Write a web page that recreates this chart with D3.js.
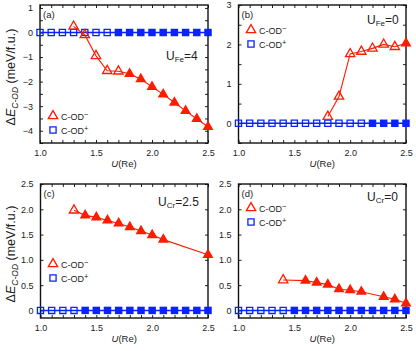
<!DOCTYPE html>
<html>
<head>
<script src="https://d3js.org/d3.v7.min.js"></script>
<style>
  body { margin: 0; background: #fff; }
  text { font-family: "Liberation Sans", Arial, Helvetica, sans-serif; fill: #222; }
  .tick text { font-size: 9px; }
  .tick line { stroke: #222; }
  .domain { display: none; }
</style>
</head>
<body>
<svg width="416" height="351"></svg>
<script>
// U(Re) grid shared by the C-OD+ series
var uGrid = [1.0, 1.1, 1.2, 1.3, 1.4, 1.5, 1.6, 1.7, 1.8, 1.9, 2.0, 2.1, 2.2, 2.3, 2.4, 2.5];

// (a) U_Fe = 4
var aMinusU = [1.3, 1.4, 1.5, 1.6, 1.7, 1.8, 1.9, 2.0, 2.1, 2.2, 2.3, 2.4, 2.5];
var aMinusE = [0.25, -0.1, -0.95, -1.56, -1.58, -1.68, -1.9, -2.21, -2.52, -2.85, -3.19, -3.52, -3.84];
var aMinusFilled = [0, 0, 0, 0, 0, 1, 1, 1, 1, 1, 1, 1, 1];
var aPlusE = [0, 0, 0, 0, 0, 0, 0, 0, 0, 0, 0, 0, 0, 0, 0, 0];
var aPlusFilled = [0, 0, 0, 0, 0, 0, 0, 1, 1, 1, 1, 1, 1, 1, 1, 1];

// (b) U_Fe = 0
var bMinusU = [1.8, 1.9, 2.0, 2.1, 2.2, 2.3, 2.4, 2.5];
var bMinusE = [0.17, 0.68, 1.76, 1.82, 1.9, 2.0, 1.94, 2.03];
var bMinusFilled = [0, 0, 0, 0, 0, 0, 0, 1];
var bPlusE = [0, 0, 0, 0, 0, 0, 0, 0, 0, 0, 0, 0, 0, 0, 0, 0];
var bPlusFilled = [0, 0, 0, 0, 0, 0, 0, 0, 0, 0, 0, 0, 1, 1, 1, 1];

// (c) U_Cr = 2.5
var cMinusU = [1.3, 1.4, 1.5, 1.6, 1.7, 1.8, 1.9, 2.0, 2.1, 2.5];
var cMinusE = [1.98, 1.88, 1.84, 1.78, 1.72, 1.65, 1.57, 1.49, 1.4, 1.1];
var cMinusFilled = [0, 1, 1, 1, 1, 1, 1, 1, 1, 1];
var cPlusE = [0, 0, 0, 0, 0, 0, 0, 0, 0, 0, 0, 0, 0, 0, 0, 0];
var cPlusFilled = [0, 0, 0, 0, 1, 1, 1, 1, 1, 1, 1, 1, 1, 1, 1, 1];

// (d) U_Cr = 0
var dMinusU = [1.4, 1.6, 1.7, 1.8, 1.9, 2.0, 2.1, 2.3, 2.4, 2.5];
var dMinusE = [0.6, 0.59, 0.55, 0.51, 0.42, 0.4, 0.37, 0.27, 0.22, 0.14];
var dMinusFilled = [0, 1, 1, 1, 1, 1, 1, 1, 1, 1];
var dPlusE = [0, 0, 0, 0, 0, 0, 0, 0, 0, 0, 0, 0, 0, 0, 0, 0];
var dPlusFilled = [0, 0, 0, 0, 0, 1, 1, 1, 1, 1, 1, 1, 1, 1, 1, 1];

var xTicks = [1.0, 1.5, 2.0, 2.5];
var aYTicks = [1, 0, -1, -2, -3, -4];
var bYTicks = [3, 2, 1, 0];
var cdYTicks = [2.5, 2.0, 1.5, 1.0, 0.5, 0];

var red = "#ff1a00", blue = "#0a22ff";

var panels = [
  { tag: "(a)", u: "Fe", uval: "=4", minusU: aMinusU, minusE: aMinusE, minusF: aMinusFilled,
    plusE: aPlusE, plusF: aPlusFilled, yDomain: [-4.5, 1.12], yTicks: aYTicks, yMinor: 0.5,
    yFmt: function(d) { return d < 0 ? "\u2212" + (-d) : "" + d; },
    x0: 40, x1: 208, y0: 5, y1: 143, ylabel: true,
    legend: [53, 116], uPos: [166, 60] },
  { tag: "(b)", u: "Fe", uval: "=0", minusU: bMinusU, minusE: bMinusE, minusF: bMinusFilled,
    plusE: bPlusE, plusF: bPlusFilled, yDomain: [-0.5, 3], yTicks: bYTicks, yMinor: 0.5,
    yFmt: function(d) { return "" + d; },
    x0: 238.5, x1: 406, y0: 5, y1: 143, ylabel: false,
    legend: [251, 30], uPos: [367, 24] },
  { tag: "(c)", u: "Cr", uval: "=2.5", minusU: cMinusU, minusE: cMinusE, minusF: cMinusFilled,
    plusE: cPlusE, plusF: cPlusFilled, yDomain: [-0.15, 2.5], yTicks: cdYTicks, yMinor: 0.5,
    yFmt: function(d) { return d === 0 ? "0" : d3.format(".1f")(d); },
    x0: 40.5, x1: 208, y0: 184, y1: 318, ylabel: true,
    legend: [53, 264], uPos: [158, 206] },
  { tag: "(d)", u: "Cr", uval: "=0", minusU: dMinusU, minusE: dMinusE, minusF: dMinusFilled,
    plusE: dPlusE, plusF: dPlusFilled, yDomain: [-0.15, 2.5], yTicks: cdYTicks, yMinor: 0.5,
    yFmt: function(d) { return d === 0 ? "0" : d3.format(".1f")(d); },
    x0: 238.5, x1: 406, y0: 184, y1: 318, ylabel: false,
    legend: [251, 208], uPos: [367, 201] }
];

var svg = d3.select("svg");
var tri = d3.symbol().type(d3.symbolTriangle);
var sq = d3.symbol().type(d3.symbolSquare);

function range(a, b, step) {
  var out = [];
  for (var v = a; v <= b + 1e-9; v += step) out.push(Math.round(v * 100) / 100);
  return out;
}

panels.forEach(function(p) {
  var x = d3.scaleLinear().domain([1.0, 2.5]).range([p.x0, p.x1]);
  var y = d3.scaleLinear().domain(p.yDomain).range([p.y1, p.y0]);
  var g = svg.append("g");

  var xAll = range(1.0, 2.5, 0.1);
  var yAll = range(Math.ceil(p.yDomain[0] / p.yMinor) * p.yMinor, p.yDomain[1], p.yMinor);
  var isMajor = function(list) { return function(d) { return list.some(function(t) { return Math.abs(t - d) < 1e-6; }); }; };

  g.append("g").attr("transform", "translate(0," + p.y1 + ")")
    .call(d3.axisBottom(x).tickValues(xAll).tickSize(-3).tickPadding(7)
      .tickFormat(function(d) { return isMajor(xTicks)(d) ? d3.format(".1f")(d) : ""; }));
  g.append("g").attr("transform", "translate(0," + p.y0 + ")")
    .call(d3.axisTop(x).tickValues(xAll).tickSize(-3).tickFormat(""));
  g.append("g").attr("transform", "translate(" + p.x0 + ",0)")
    .call(d3.axisLeft(y).tickValues(yAll).tickSize(-3).tickPadding(7)
      .tickFormat(function(d) { return isMajor(p.yTicks)(d) ? p.yFmt(d) : ""; }));
  g.append("g").attr("transform", "translate(" + p.x1 + ",0)")
    .call(d3.axisRight(y).tickValues(yAll).tickSize(-3).tickFormat(""));

  g.append("rect").attr("x", p.x0).attr("y", p.y0)
    .attr("width", p.x1 - p.x0).attr("height", p.y1 - p.y0)
    .attr("fill", "none").attr("stroke", "#111").attr("stroke-width", 1.4);

  // C-OD+ series
  var plus = uGrid.map(function(u, i) { return { u: u, e: p.plusE[i], f: p.plusF[i] }; });
  g.append("path").datum(plus)
    .attr("d", d3.line().x(function(d) { return x(d.u); }).y(function(d) { return y(d.e); }))
    .attr("fill", "none").attr("stroke", blue).attr("stroke-width", 1.5);
  g.selectAll(".sq").data(plus).enter().append("path")
    .attr("transform", function(d) { return "translate(" + x(d.u) + "," + y(d.e) + ")"; })
    .attr("d", function(d) { return sq.size(d.f ? 56 : 38)(); })
    .attr("fill", function(d) { return d.f ? blue : "none"; })
    .attr("stroke", blue).attr("stroke-width", function(d) { return d.f ? 0 : 1.3; });

  // C-OD- series
  var minus = p.minusU.map(function(u, i) { return { u: u, e: p.minusE[i], f: p.minusF[i] }; });
  g.append("path").datum(minus)
    .attr("d", d3.line().x(function(d) { return x(d.u); }).y(function(d) { return y(d.e); }))
    .attr("fill", "none").attr("stroke", red).attr("stroke-width", 1.1);
  g.selectAll(".tri").data(minus).enter().append("path")
    .attr("transform", function(d) { return "translate(" + x(d.u) + "," + y(d.e) + ")"; })
    .attr("d", function(d) { return tri.size(d.f ? 52 : 38)(); })
    .attr("fill", function(d) { return d.f ? red : "none"; })
    .attr("stroke", red).attr("stroke-width", function(d) { return d.f ? 0 : 1.3; });

  // legend
  var lx = p.legend[0], ly = p.legend[1];
  g.append("path").attr("transform", "translate(" + lx + "," + ly + ")")
    .attr("d", tri.size(38)()).attr("fill", "none").attr("stroke", red).attr("stroke-width", 1.3);
  g.append("path").attr("transform", "translate(" + lx + "," + (ly + 14) + ")")
    .attr("d", sq.size(38)()).attr("fill", "none").attr("stroke", blue).attr("stroke-width", 1.3);
  var t1 = g.append("text").attr("x", lx + 8).attr("y", ly + 3.5).style("font-size", "9px").text("C-OD");
  t1.append("tspan").attr("dy", -2.5).style("font-size", "7.5px").text("\u2212");
  var t2 = g.append("text").attr("x", lx + 8).attr("y", ly + 17.5).style("font-size", "9px").text("C-OD");
  t2.append("tspan").attr("dy", -2.5).style("font-size", "7.5px").text("+");

  // panel tag
  g.append("text").attr("x", p.x0 + 3).attr("y", p.y0 + 13).style("font-size", "9.5px").text(p.tag);

  // U annotation
  var ut = g.append("text").attr("x", p.uPos[0]).attr("y", p.uPos[1]).style("font-size", "12px").text("U");
  ut.append("tspan").attr("dy", 2).style("font-size", "8px").text(p.u);
  ut.append("tspan").attr("dy", -2).text(p.uval);

  // x label
  var xl = g.append("text").attr("x", (p.x0 + p.x1) / 2).attr("y", p.y1 + 24)
    .attr("text-anchor", "middle").style("font-size", "9.5px");
  xl.append("tspan").style("font-style", "italic").text("U");
  xl.append("tspan").text("(Re)");

  if (p.ylabel) {
    var yl = g.append("text")
      .attr("transform", "translate(15," + ((p.y0 + p.y1) / 2 + 3) + ") rotate(-90)")
      .attr("text-anchor", "middle").style("font-size", "12.5px");
    yl.append("tspan").text("\u0394");
    yl.append("tspan").style("font-style", "italic").text("E");
    yl.append("tspan").attr("dy", 2.5).style("font-style", "italic").style("font-size", "8.5px").text("C-OD");
    yl.append("tspan").attr("dy", -2.5).text(" (meV/f.u.)");
  }
});
</script>
</body>
</html>
